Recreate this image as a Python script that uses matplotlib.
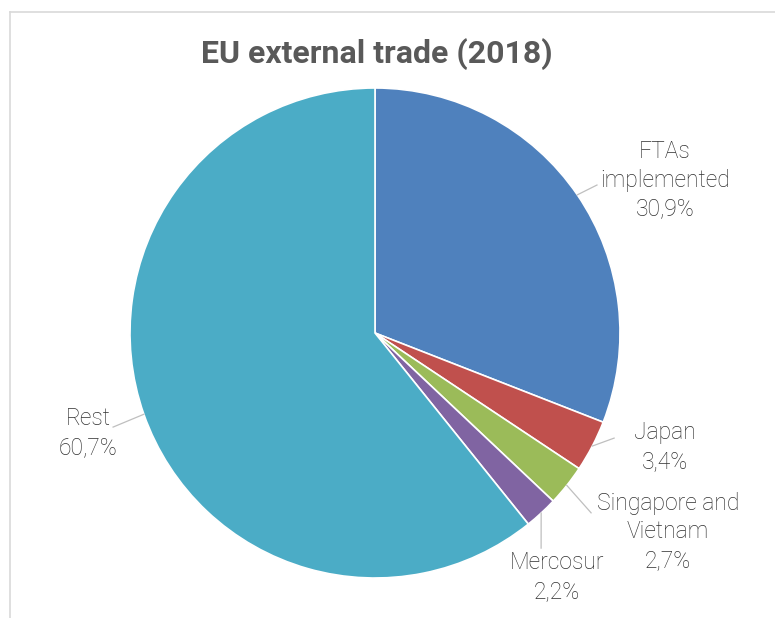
import matplotlib
matplotlib.use("Agg")
import matplotlib.pyplot as plt
import numpy as np
from matplotlib.lines import Line2D

categories = ["FTAs\nimplemented", "Japan", "Singapore and\nVietnam", "Mercosur", "Rest"]
values = [30.9, 3.4, 2.7, 2.2, 60.7]
pct_labels = ["30,9%", "3,4%", "2,7%", "2,2%", "60,7%"]
colors = ["#4F81BD", "#C0504D", "#9BBB59", "#8064A2", "#4BACC6"]

# label positions (style) in pie-radius units
label_pos = [(1.184, 0.624), (1.184, -0.465), (1.196, -0.812), (0.743, -0.996), (-1.171, -0.408)]
leader_end = [(0.906, 0.604), (0.976, -0.429), (0.882, -0.734), (0.678, -0.878), (-1.069, -0.384)]

plt.rcParams['font.family'] = ['Roboto', 'DejaVu Sans']

W, H = 775, 618
fig = plt.figure(figsize=(W / 100, H / 100), dpi=100)

# border lines
fig.add_artist(Line2D([9.5 / W, 9.5 / W], [1 - 11.5 / H, 0], color="#D9D9D9", lw=1.2))
fig.add_artist(Line2D([9.5 / W, 1], [1 - 11.5 / H, 1 - 11.5 / H], color="#D9D9D9", lw=1.2))

cx, cy, r = 375, 333, 245
ax = fig.add_axes([(cx - r) / W, (H - cy - r) / H, 2 * r / W, 2 * r / H])
wedges, _ = ax.pie(values, colors=colors, startangle=90, counterclock=False, radius=1,
                   wedgeprops=dict(edgecolor="white", linewidth=1.2))
ax.set_xlim(-1, 1)
ax.set_ylim(-1, 1)
ax.set_aspect("equal")
ax.axis("off")

for w, cat, pl, pos, le in zip(wedges, categories, pct_labels, label_pos, leader_end):
    ang = np.deg2rad((w.theta1 + w.theta2) / 2)
    sx, sy = np.cos(ang), np.sin(ang)
    ax.plot([sx, le[0]], [sy, le[1]], color="#BFBFBF", lw=0.9, clip_on=False)
    ax.text(pos[0], pos[1], cat + "\n" + pl, ha="center", va="center", fontsize=16.5,
            color="#303030", linespacing=1.3, fontweight="light", clip_on=False)

fig.text(377 / W, 1 - 54 / H, "EU external trade (2018)", ha="center", va="center",
         fontsize=23, fontweight="bold", color="#595959")

fig.savefig("out.png", dpi=100)
